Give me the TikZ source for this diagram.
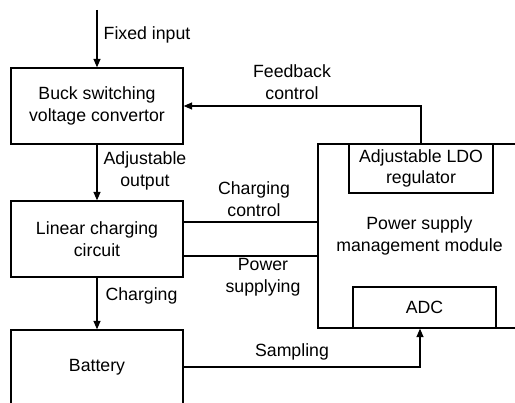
\documentclass[tikz,border=0pt]{standalone}
\usepackage{fontspec}
\setmainfont{Liberation Sans}
\usetikzlibrary{arrows.meta,calc}
\begin{document}
\begin{tikzpicture}[x=1pt,y=-1pt,
  every node/.style={font=\fontsize{17.7}{21.5}\selectfont, align=center, inner sep=0pt},
  box/.style={draw, line width=1.3pt},
  conn/.style={line width=1.3pt},
  arr/.style={conn, -{Triangle[length=8.5pt,width=7pt]}}]
\useasboundingbox (0,0) rectangle (515,403);
\clip (0,0) rectangle (515,403);
% boxes
\node[box, minimum width=172pt, minimum height=76pt] (buck) at (97,106) {Buck switching\\voltage convertor};
\node[box, minimum width=172pt, minimum height=76pt] (lin) at (97,239) {Linear charging\\circuit};
\node[box, minimum width=172pt, minimum height=74pt] (bat) at (97,367) {Battery};
\node[box, minimum width=203pt, minimum height=184pt] (psm) at (419.5,236) {Power supply\\management module};
\node[box, minimum width=144pt, minimum height=49pt] (ldo) at (421,168.5) {Adjustable LDO\\regulator};
\node[box, minimum width=143pt, minimum height=41pt] (adc) at (424.5,307.5) {ADC};
% connectors
\coordinate (in) at (97,10);
\draw[arr] (in) -- (buck.north);
\draw[arr] (buck) -- (lin);
\draw[arr] (lin) -- (bat);
\draw[arr] (ldo.north) |- (buck.east);
\draw[conn] ([yshift=17pt]lin.east) -- ([yshift=17pt]lin.east -| psm.west);
\draw[conn] ([yshift=-17pt]lin.east) -- ([yshift=-17pt]lin.east -| psm.west);
\draw[arr] (bat.east) -| ([xshift=-4.5pt]adc.south);
% labels
\node (lfix) at (147,35) {Fixed input};
\node (ladj) at (145,171) {Adjustable\\output};
\node (lfb) at (292,82) {Feedback\\control};
\node (lcc) at (254,199) {Charging\\control};
\node (lps) at (263,277.5) {Power\\supplying};
\node (lchg) at (141.5,296) {Charging};
\node (lsmp) at (292,352) {Sampling};
\end{tikzpicture}
\end{document}
